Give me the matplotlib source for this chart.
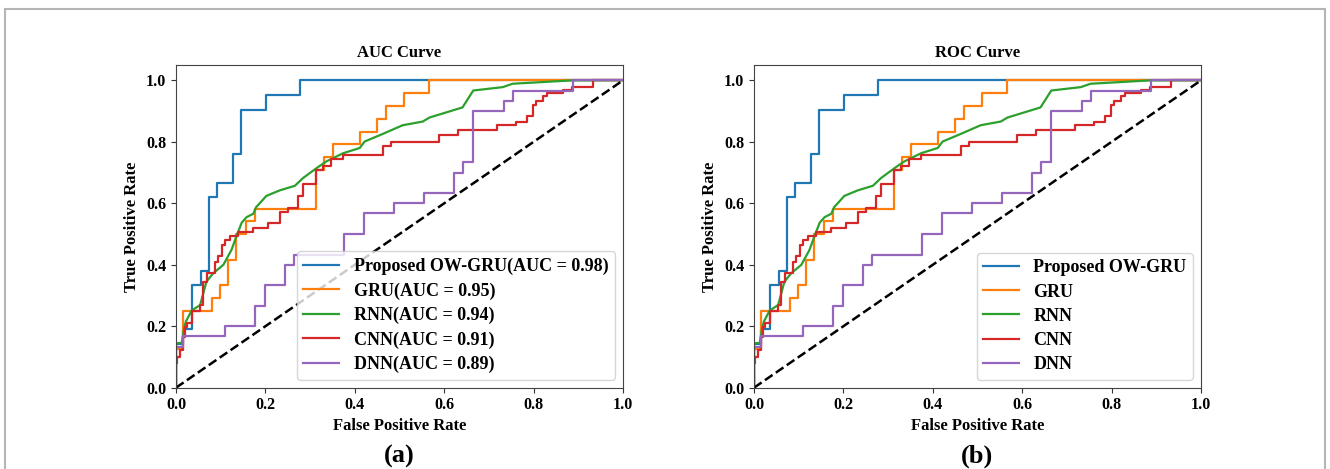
import matplotlib
matplotlib.use("Agg")
import matplotlib.pyplot as plt
from matplotlib.patches import Rectangle

# ---------------- data ----------------
models = ["Proposed OW-GRU", "GRU", "RNN", "CNN", "DNN"]
auc_values = [0.98, 0.95, 0.94, 0.91, 0.89]
colors = ["#1f77b4", "#ff7f0e", "#2ca02c", "#d62728", "#9467bd"]

owgru_fpr = [0, 0, 0.016, 0.035, 0.055, 0.074, 0.091, 0.128, 0.145, 0.202, 0.277, 1.0]
owgru_tpr = [0, 0.143, 0.190, 0.333, 0.381, 0.619, 0.667, 0.762, 0.905, 0.952, 1.0, 1.0]

gru_fpr = [0, 0, 0.016, 0.080, 0.098, 0.117, 0.135, 0.156, 0.176, 0.3125, 0.330,
           0.351, 0.411, 0.450, 0.470, 0.510, 0.567, 1.0]
gru_tpr = [0, 0.125, 0.25, 0.292, 0.333, 0.417, 0.5, 0.542, 0.583, 0.708, 0.75,
           0.792, 0.833, 0.875, 0.917, 0.958, 1.0, 1.0]

rnn_fpr = [0, 0, 0.013, 0.018, 0.022, 0.035, 0.054, 0.068, 0.083, 0.106,
           0.124, 0.135, 0.147, 0.158, 0.173, 0.179, 0.191, 0.202, 0.232, 0.266,
           0.284, 0.314, 0.336, 0.374, 0.411, 0.422, 0.463, 0.507, 0.552, 0.567,
           0.641, 0.665, 0.731, 0.753, 0.887, 1.0]
rnn_tpr = [0, 0.144, 0.146, 0.193, 0.215, 0.251, 0.269, 0.345, 0.372, 0.40,
           0.448, 0.492, 0.537, 0.555, 0.566, 0.587, 0.606, 0.624, 0.642, 0.657,
           0.682, 0.714, 0.736, 0.763, 0.780, 0.801, 0.826, 0.854, 0.866, 0.879,
           0.912, 0.967, 0.978, 0.989, 1.0, 1.0]

cnn_fpr = [0, 0, 0.003, 0.009, 0.016, 0.020, 0.024, 0.035, 0.054, 0.061,
           0.070, 0.087, 0.094, 0.102, 0.109, 0.121, 0.139, 0.173, 0.206, 0.232,
           0.251, 0.273, 0.284, 0.314, 0.329, 0.347, 0.374, 0.463, 0.481, 0.589,
           0.630, 0.719, 0.760, 0.786, 0.798, 0.805, 0.820, 0.831, 0.865, 0.887,
           0.932, 1.0]
cnn_tpr = [0, 0.079, 0.101, 0.123, 0.166, 0.199, 0.212, 0.251, 0.269, 0.345,
           0.372, 0.41, 0.427, 0.465, 0.481, 0.492, 0.508, 0.519, 0.535, 0.573,
           0.584, 0.624, 0.663, 0.709, 0.72, 0.744, 0.758, 0.785, 0.801, 0.823,
           0.839, 0.856, 0.866, 0.885, 0.921, 0.932, 0.948, 0.959, 0.97, 0.98,
           1.0, 1.0]

dnn_fpr = [0, 0, 0.016, 0.109, 0.176, 0.199, 0.243, 0.264, 0.375, 0.420,
           0.487, 0.554, 0.623, 0.643, 0.665, 0.733, 0.753, 0.889, 1.0]
dnn_tpr = [0, 0.133, 0.167, 0.2, 0.267, 0.333, 0.4, 0.433, 0.5, 0.567,
           0.6, 0.633, 0.7, 0.733, 0.9, 0.933, 0.967, 1.0, 1.0]

curves = [(owgru_fpr, owgru_tpr, "steps-post"),
          (gru_fpr, gru_tpr, "steps-post"),
          (rnn_fpr, rnn_tpr, "default"),
          (cnn_fpr, cnn_tpr, "steps-post"),
          (dnn_fpr, dnn_tpr, "steps-post")]

panel_titles = ["AUC Curve", "ROC Curve"]
panel_tags = ["(a)", "(b)"]
ticks = [0.0, 0.2, 0.4, 0.6, 0.8, 1.0]
tick_labels = ["0.0", "0.2", "0.4", "0.6", "0.8", "1.0"]

# ---------------- figure ----------------
plt.rcParams["font.family"] = ["Liberation Serif", "DejaVu Serif"]
plt.rcParams["font.weight"] = "bold"

W, H = 1330, 469
fig = plt.figure(figsize=(W / 100, H / 100), dpi=100)

axes_left_px = [176, 754]
ax_w_px = 447
ax_top_px, ax_bot_px = 65, 387.7

for p in range(2):
    ax = fig.add_axes([axes_left_px[p] / W, (H - ax_bot_px) / H,
                       ax_w_px / W, (ax_bot_px - ax_top_px) / H])
    for i, (fx, ty, ds) in enumerate(curves):
        lab = (f"{models[i]}(AUC = {auc_values[i]:.2f})" if p == 0 else models[i])
        ax.plot(fx, ty, color=colors[i], lw=1.6, drawstyle=ds, label=lab)
    ax.plot([0, 1], [0, 1], "k--", lw=1.8)
    ax.set_xlim(0.0, 1.0)
    ax.set_ylim(0.0, 1.05)
    ax.set_xticks(ticks)
    ax.set_xticklabels(tick_labels)
    ax.set_yticks(ticks)
    ax.set_yticklabels(tick_labels)
    ax.tick_params(labelsize=11.5, color="#333333")
    for lbl in ax.get_xticklabels() + ax.get_yticklabels():
        lbl.set_fontweight("bold")
    for s in ax.spines.values():
        s.set_color("#444444")
    ax.set_xlabel("False Positive Rate", fontsize=12, fontweight="bold", labelpad=3)
    ax.set_ylabel("True Positive Rate", fontsize=12, fontweight="bold")
    ax.set_title(panel_titles[p], fontsize=12, fontweight="bold", pad=6)
    leg = ax.legend(loc="lower right", prop={"size": 13, "weight": "bold"},
                    labelspacing=0.4, borderpad=0.35, handlelength=2.0,
                    borderaxespad=0.45)
    fig.text((axes_left_px[p] + ax_w_px / 2) / W, 1 - 456 / H, panel_tags[p],
             ha="center", va="center", fontsize=19, fontweight="bold")

fig.patches.append(Rectangle((5 / W, -0.05), 1320 / W, 1.05 - 9 / H,
                             transform=fig.transFigure, fill=False,
                             edgecolor="#b5b5b5", lw=1.5))

fig.savefig("out.png", dpi=100)
